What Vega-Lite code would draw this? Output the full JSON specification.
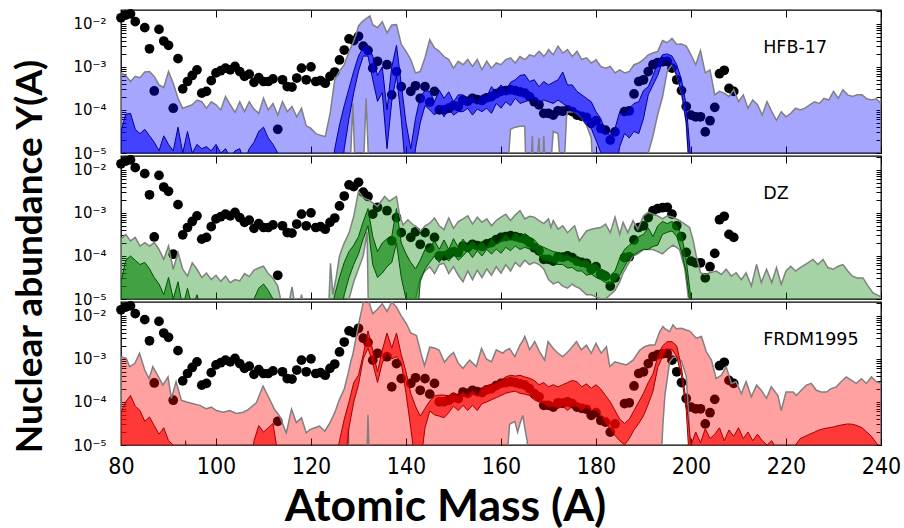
{
"$schema":"https://vega.github.io/schema/vega-lite/v6.json",
"background":"white",
"padding":{"left":11,"top":3,"right":5,"bottom":5},
"spacing":3,
"bounds":"flush",
"config":{"view":{"stroke":"black","strokeWidth":1.3},"axis":{"domain":false,"grid":false,"tickColor":"black","tickWidth":1}},
"datasets":{
"solar":[{"A":80,"logY":-1.86},{"A":81,"logY":-1.8},{"A":82,"logY":-1.77},{"A":83,"logY":-1.95},{"A":85,"logY":-2.09},{"A":86,"logY":-2.58},{"A":87,"logY":-3.56},{"A":88,"logY":-2.13},{"A":89,"logY":-2.4},{"A":90,"logY":-2.5},{"A":91,"logY":-3.96},{"A":92,"logY":-2.81},{"A":93,"logY":-3.51},{"A":94,"logY":-3.34},{"A":95,"logY":-3.2},{"A":96,"logY":-3.07},{"A":97,"logY":-3.61},{"A":98,"logY":-3.57},{"A":99,"logY":-3.32},{"A":100,"logY":-3.14},{"A":101,"logY":-3.09},{"A":102,"logY":-3.03},{"A":103,"logY":-3.07},{"A":104,"logY":-2.99},{"A":105,"logY":-3.11},{"A":106,"logY":-3.22},{"A":107,"logY":-3.17},{"A":108,"logY":-3.36},{"A":109,"logY":-3.25},{"A":110,"logY":-3.34},{"A":111,"logY":-3.34},{"A":112,"logY":-3.28},{"A":113,"logY":-4.45},{"A":114,"logY":-3.3},{"A":115,"logY":-3.46},{"A":116,"logY":-3.47},{"A":117,"logY":-3.26},{"A":118,"logY":-3.03},{"A":119,"logY":-3.3},{"A":120,"logY":-3.0},{"A":121,"logY":-3.34},{"A":122,"logY":-3.32},{"A":123,"logY":-3.38},{"A":124,"logY":-3.22},{"A":125,"logY":-3.12},{"A":126,"logY":-2.84},{"A":127,"logY":-2.61},{"A":128,"logY":-2.35},{"A":129,"logY":-2.39},{"A":130,"logY":-2.29},{"A":131,"logY":-2.52},{"A":132,"logY":-2.62},{"A":133,"logY":-3.03},{"A":134,"logY":-2.87},{"A":136,"logY":-2.95},{"A":137,"logY":-3.65},{"A":138,"logY":-3.11},{"A":139,"logY":-3.46},{"A":141,"logY":-3.57},{"A":142,"logY":-3.44},{"A":143,"logY":-3.73},{"A":144,"logY":-3.46},{"A":145,"logY":-3.82},{"A":146,"logY":-3.57},{"A":147,"logY":-4.0},{"A":148,"logY":-4.0},{"A":149,"logY":-3.96},{"A":150,"logY":-3.9},{"A":151,"logY":-3.92},{"A":152,"logY":-3.77},{"A":153,"logY":-3.8},{"A":154,"logY":-3.73},{"A":155,"logY":-3.76},{"A":156,"logY":-3.78},{"A":157,"logY":-3.72},{"A":158,"logY":-3.69},{"A":159,"logY":-3.62},{"A":160,"logY":-3.57},{"A":161,"logY":-3.55},{"A":162,"logY":-3.53},{"A":163,"logY":-3.55},{"A":164,"logY":-3.58},{"A":165,"logY":-3.61},{"A":166,"logY":-3.69},{"A":167,"logY":-3.81},{"A":168,"logY":-3.88},{"A":169,"logY":-4.08},{"A":170,"logY":-4.08},{"A":171,"logY":-4.12},{"A":172,"logY":-4.02},{"A":173,"logY":-4.03},{"A":174,"logY":-4.0},{"A":175,"logY":-4.04},{"A":176,"logY":-4.12},{"A":177,"logY":-4.15},{"A":178,"logY":-4.17},{"A":179,"logY":-4.31},{"A":180,"logY":-4.25},{"A":181,"logY":-4.43},{"A":182,"logY":-4.47},{"A":183,"logY":-4.7},{"A":184,"logY":-4.51},{"A":186,"logY":-4.04},{"A":187,"logY":-4.02},{"A":188,"logY":-3.63},{"A":189,"logY":-3.34},{"A":190,"logY":-3.3},{"A":191,"logY":-3.11},{"A":192,"logY":-2.95},{"A":193,"logY":-2.9},{"A":194,"logY":-2.88},{"A":195,"logY":-2.87},{"A":196,"logY":-3.03},{"A":197,"logY":-3.3},{"A":198,"logY":-3.55},{"A":199,"logY":-3.92},{"A":200,"logY":-4.12},{"A":201,"logY":-4.16},{"A":202,"logY":-4.16},{"A":203,"logY":-4.51},{"A":204,"logY":-4.25},{"A":205,"logY":-3.94},{"A":206,"logY":-3.16},{"A":207,"logY":-3.08},{"A":208,"logY":-3.5},{"A":209,"logY":-3.57}],
"hfbLight":[{"A":80,"lo":-6,"hi":-3.14},{"A":81,"lo":-6,"hi":-3.2},{"A":82,"lo":-6,"hi":-3.34},{"A":83,"lo":-6,"hi":-3.22},{"A":84,"lo":-6,"hi":-3.25},{"A":85,"lo":-6,"hi":-3.12},{"A":86,"lo":-6,"hi":-3.11},{"A":87,"lo":-6,"hi":-3.22},{"A":88,"lo":-6,"hi":-3.42},{"A":89,"lo":-6,"hi":-3.48},{"A":90,"lo":-6,"hi":-3.11},{"A":91,"lo":-6,"hi":-3.38},{"A":92,"lo":-6,"hi":-3.73},{"A":93,"lo":-6,"hi":-3.96},{"A":94,"lo":-6,"hi":-3.92},{"A":95,"lo":-6,"hi":-3.88},{"A":96,"lo":-6,"hi":-3.77},{"A":97,"lo":-6,"hi":-3.81},{"A":98,"lo":-6,"hi":-3.96},{"A":99,"lo":-6,"hi":-3.81},{"A":100,"lo":-6,"hi":-3.88},{"A":101,"lo":-6,"hi":-4.0},{"A":102,"lo":-6,"hi":-3.69},{"A":103,"lo":-6,"hi":-3.88},{"A":104,"lo":-6,"hi":-4.06},{"A":105,"lo":-6,"hi":-3.81},{"A":106,"lo":-6,"hi":-4.04},{"A":107,"lo":-6,"hi":-3.81},{"A":108,"lo":-6,"hi":-3.98},{"A":109,"lo":-6,"hi":-4.08},{"A":110,"lo":-6,"hi":-3.73},{"A":111,"lo":-6,"hi":-4.0},{"A":112,"lo":-6,"hi":-3.85},{"A":113,"lo":-6,"hi":-4.12},{"A":114,"lo":-6,"hi":-3.81},{"A":115,"lo":-6,"hi":-4.04},{"A":116,"lo":-6,"hi":-3.92},{"A":117,"lo":-6,"hi":-4.16},{"A":118,"lo":-6,"hi":-3.96},{"A":119,"lo":-6,"hi":-4.37},{"A":120,"lo":-6,"hi":-4.43},{"A":121,"lo":-6,"hi":-4.55},{"A":122,"lo":-6,"hi":-4.59},{"A":123,"lo":-6,"hi":-4.62},{"A":124,"lo":-6,"hi":-4.1},{"A":125,"lo":-6,"hi":-3.3},{"A":126,"lo":-6,"hi":-3.1},{"A":127,"lo":-6,"hi":-2.95},{"A":128,"lo":-6,"hi":-2.65},{"A":128.8,"lo":-3.85,"hi":-2.45},{"A":129.5,"lo":-6,"hi":-2.25},{"A":130,"lo":-6,"hi":-2.05},{"A":130.8,"lo":-6,"hi":-1.95},{"A":131.6,"lo":-3.73,"hi":-1.88},{"A":132.4,"lo":-6,"hi":-1.82},{"A":133,"lo":-6,"hi":-2.02},{"A":134,"lo":-6,"hi":-2.09},{"A":135,"lo":-6,"hi":-1.95},{"A":136,"lo":-6,"hi":-2.21},{"A":137,"lo":-6,"hi":-2.03},{"A":138,"lo":-6,"hi":-2.02},{"A":139,"lo":-6,"hi":-2.48},{"A":140,"lo":-6,"hi":-2.64},{"A":141,"lo":-6,"hi":-2.83},{"A":142,"lo":-6,"hi":-3.14},{"A":143,"lo":-6,"hi":-3.11},{"A":144,"lo":-6,"hi":-2.79},{"A":145,"lo":-6,"hi":-2.37},{"A":146,"lo":-6,"hi":-2.56},{"A":147,"lo":-6,"hi":-2.64},{"A":148,"lo":-6,"hi":-2.76},{"A":149,"lo":-6,"hi":-2.83},{"A":150,"lo":-6,"hi":-3.03},{"A":151,"lo":-6,"hi":-2.87},{"A":152,"lo":-6,"hi":-2.95},{"A":153,"lo":-6,"hi":-2.83},{"A":154,"lo":-6,"hi":-2.99},{"A":155,"lo":-6,"hi":-2.83},{"A":156,"lo":-6,"hi":-3.07},{"A":157,"lo":-6,"hi":-2.87},{"A":158,"lo":-6,"hi":-3.03},{"A":159,"lo":-6,"hi":-2.91},{"A":160,"lo":-6,"hi":-2.95},{"A":161,"lo":-6,"hi":-2.83},{"A":162,"lo":-4.45,"hi":-2.79},{"A":163,"lo":-4.4,"hi":-2.91},{"A":164,"lo":-4.38,"hi":-2.76},{"A":165,"lo":-4.38,"hi":-2.83},{"A":165.4,"lo":-6,"hi":-2.8},{"A":166,"lo":-6,"hi":-2.72},{"A":166.6,"lo":-4.6,"hi":-2.74},{"A":167,"lo":-6,"hi":-2.76},{"A":168,"lo":-4.65,"hi":-2.64},{"A":168.6,"lo":-6,"hi":-2.7},{"A":169,"lo":-4.6,"hi":-2.76},{"A":169.6,"lo":-6,"hi":-2.68},{"A":170,"lo":-6,"hi":-2.6},{"A":171,"lo":-4.5,"hi":-2.72},{"A":172,"lo":-4.55,"hi":-2.52},{"A":173,"lo":-6,"hi":-2.68},{"A":173.8,"lo":-4.15,"hi":-2.62},{"A":174,"lo":-4.05,"hi":-2.6},{"A":175,"lo":-4.05,"hi":-2.76},{"A":176,"lo":-4.08,"hi":-2.64},{"A":177,"lo":-4.2,"hi":-2.83},{"A":178,"lo":-4.35,"hi":-2.79},{"A":179,"lo":-4.65,"hi":-2.91},{"A":179.6,"lo":-6,"hi":-2.87},{"A":180,"lo":-6,"hi":-2.83},{"A":181,"lo":-6,"hi":-2.99},{"A":182,"lo":-6,"hi":-3.03},{"A":183,"lo":-6,"hi":-2.99},{"A":184,"lo":-6,"hi":-3.14},{"A":185,"lo":-6,"hi":-3.07},{"A":186,"lo":-6,"hi":-3.14},{"A":187,"lo":-6,"hi":-3.11},{"A":188,"lo":-6,"hi":-2.95},{"A":189,"lo":-6,"hi":-2.91},{"A":190,"lo":-6,"hi":-2.83},{"A":191,"lo":-5.0,"hi":-2.72},{"A":192,"lo":-4.6,"hi":-2.68},{"A":193,"lo":-4.1,"hi":-2.64},{"A":194,"lo":-3.7,"hi":-2.39},{"A":195,"lo":-3.1,"hi":-2.44},{"A":196,"lo":-2.95,"hi":-2.34},{"A":197,"lo":-3.2,"hi":-2.48},{"A":198,"lo":-3.6,"hi":-2.47},{"A":199,"lo":-4.3,"hi":-2.52},{"A":200,"lo":-6,"hi":-2.72},{"A":201,"lo":-6,"hi":-2.95},{"A":202,"lo":-6,"hi":-2.62},{"A":203,"lo":-6,"hi":-3.14},{"A":204,"lo":-6,"hi":-3.07},{"A":205,"lo":-6,"hi":-3.65},{"A":206,"lo":-6,"hi":-3.57},{"A":207,"lo":-6,"hi":-3.61},{"A":208,"lo":-6,"hi":-3.69},{"A":209,"lo":-6,"hi":-3.53},{"A":210,"lo":-6,"hi":-3.81},{"A":211,"lo":-6,"hi":-3.65},{"A":212,"lo":-6,"hi":-3.96},{"A":213,"lo":-6,"hi":-3.77},{"A":214,"lo":-6,"hi":-3.88},{"A":215,"lo":-6,"hi":-4.12},{"A":216,"lo":-6,"hi":-3.81},{"A":217,"lo":-6,"hi":-4.04},{"A":218,"lo":-6,"hi":-4.24},{"A":219,"lo":-6,"hi":-4.04},{"A":220,"lo":-6,"hi":-4.16},{"A":221,"lo":-6,"hi":-4.08},{"A":222,"lo":-6,"hi":-3.96},{"A":223,"lo":-6,"hi":-4.0},{"A":224,"lo":-6,"hi":-3.96},{"A":225,"lo":-6,"hi":-3.88},{"A":226,"lo":-6,"hi":-3.81},{"A":227,"lo":-6,"hi":-3.85},{"A":228,"lo":-6,"hi":-3.73},{"A":229,"lo":-6,"hi":-3.77},{"A":230,"lo":-6,"hi":-3.57},{"A":231,"lo":-6,"hi":-3.73},{"A":232,"lo":-6,"hi":-3.53},{"A":233,"lo":-6,"hi":-3.65},{"A":234,"lo":-6,"hi":-3.69},{"A":235,"lo":-6,"hi":-3.65},{"A":236,"lo":-6,"hi":-3.65},{"A":237,"lo":-6,"hi":-3.74},{"A":238,"lo":-6,"hi":-3.77},{"A":239,"lo":-6,"hi":-3.74},{"A":240,"lo":-6,"hi":-3.85}],
"hfbDark":[{"A":80,"lo":-6,"hi":-4.5},{"A":81,"lo":-6,"hi":-4.1},{"A":82,"lo":-6,"hi":-4.08},{"A":83,"lo":-6,"hi":-4.45},{"A":84,"lo":-6,"hi":-4.55},{"A":85,"lo":-6,"hi":-4.45},{"A":86,"lo":-6,"hi":-4.6},{"A":87,"lo":-6,"hi":-4.75},{"A":88,"lo":-6,"hi":-4.95},{"A":89,"lo":-6,"hi":-4.6},{"A":90,"lo":-6,"hi":-4.8},{"A":91,"lo":-6,"hi":-4.95},{"A":92,"lo":-6,"hi":-4.4},{"A":93,"lo":-6,"hi":-5.0},{"A":94,"lo":-6,"hi":-4.5},{"A":95,"lo":-6,"hi":-5.0},{"A":96,"lo":-6,"hi":-4.8},{"A":97,"lo":-6,"hi":-4.9},{"A":98,"lo":-6,"hi":-4.85},{"A":99,"lo":-6,"hi":-4.95},{"A":100,"lo":-6,"hi":-4.8},{"A":101,"lo":-6,"hi":-5.0},{"A":102,"lo":-6,"hi":-4.9},{"A":103,"lo":-6,"hi":-5.1},{"A":104,"lo":-6,"hi":-4.95},{"A":105,"lo":-6,"hi":-4.9},{"A":106,"lo":-6,"hi":-5.2},{"A":107,"lo":-6,"hi":-4.9},{"A":108,"lo":-6,"hi":-4.75},{"A":109,"lo":-6,"hi":-4.5},{"A":110,"lo":-6,"hi":-4.4},{"A":111,"lo":-6,"hi":-4.65},{"A":112,"lo":-6,"hi":-4.8},{"A":113,"lo":-6,"hi":-5.0},{"A":114,"lo":-6,"hi":-5.5},{"A":115,"lo":-6,"hi":-6},{"A":124,"lo":-6,"hi":-6},{"A":125,"lo":-6,"hi":-4.9},{"A":126,"lo":-6,"hi":-4.35},{"A":127,"lo":-4.9,"hi":-3.9},{"A":128,"lo":-4.2,"hi":-3.5},{"A":129,"lo":-3.6,"hi":-3.1},{"A":130,"lo":-3.1,"hi":-2.75},{"A":131,"lo":-2.75,"hi":-2.55},{"A":132,"lo":-2.75,"hi":-2.5},{"A":133,"lo":-3.3,"hi":-2.75},{"A":134,"lo":-3.8,"hi":-3.2},{"A":135,"lo":-3.6,"hi":-3.0},{"A":136,"lo":-4.9,"hi":-4.0},{"A":137,"lo":-3.8,"hi":-3.0},{"A":138,"lo":-3.2,"hi":-2.5},{"A":139,"lo":-4.2,"hi":-3.4},{"A":140,"lo":-5.5,"hi":-4.3},{"A":141,"lo":-6,"hi":-4.9},{"A":142,"lo":-4.9,"hi":-4.2},{"A":143,"lo":-4.3,"hi":-3.7},{"A":144,"lo":-3.9,"hi":-3.55},{"A":145,"lo":-4.0,"hi":-3.57},{"A":146,"lo":-4.12,"hi":-3.81},{"A":147,"lo":-3.96,"hi":-3.54},{"A":148,"lo":-4.16,"hi":-3.73},{"A":149,"lo":-3.96,"hi":-3.58},{"A":150,"lo":-4.12,"hi":-3.81},{"A":151,"lo":-4.04,"hi":-3.65},{"A":152,"lo":-4.04,"hi":-3.65},{"A":153,"lo":-3.96,"hi":-3.75},{"A":154,"lo":-4.12,"hi":-3.69},{"A":155,"lo":-3.98,"hi":-3.85},{"A":156,"lo":-4.04,"hi":-3.65},{"A":157,"lo":-3.96,"hi":-3.69},{"A":158,"lo":-4.08,"hi":-3.46},{"A":159,"lo":-3.85,"hi":-3.6},{"A":160,"lo":-3.96,"hi":-3.42},{"A":161,"lo":-3.81,"hi":-3.55},{"A":162,"lo":-3.9,"hi":-3.36},{"A":163,"lo":-3.73,"hi":-3.3},{"A":164,"lo":-3.85,"hi":-3.2},{"A":165,"lo":-3.81,"hi":-3.18},{"A":166,"lo":-3.77,"hi":-3.34},{"A":167,"lo":-3.73,"hi":-3.3},{"A":168,"lo":-3.85,"hi":-3.46},{"A":169,"lo":-3.77,"hi":-3.34},{"A":170,"lo":-3.81,"hi":-3.42},{"A":171,"lo":-3.85,"hi":-3.36},{"A":172,"lo":-3.77,"hi":-3.3},{"A":173,"lo":-3.85,"hi":-3.12},{"A":174,"lo":-3.92,"hi":-3.42},{"A":175,"lo":-4.04,"hi":-3.42},{"A":176,"lo":-4.12,"hi":-3.57},{"A":177,"lo":-4.2,"hi":-3.65},{"A":178,"lo":-4.35,"hi":-3.73},{"A":179,"lo":-4.43,"hi":-3.81},{"A":180,"lo":-4.7,"hi":-4.04},{"A":181,"lo":-4.99,"hi":-4.2},{"A":182,"lo":-6,"hi":-4.5},{"A":183,"lo":-6,"hi":-4.59},{"A":184,"lo":-5.5,"hi":-4.43},{"A":185,"lo":-4.85,"hi":-4.04},{"A":186,"lo":-4.55,"hi":-4.12},{"A":187,"lo":-4.65,"hi":-3.96},{"A":188,"lo":-4.5,"hi":-3.85},{"A":189,"lo":-4.55,"hi":-3.81},{"A":190,"lo":-4.2,"hi":-3.55},{"A":191,"lo":-3.65,"hi":-3.46},{"A":192,"lo":-3.42,"hi":-3.2},{"A":193,"lo":-3.2,"hi":-2.91},{"A":194,"lo":-2.87,"hi":-2.72},{"A":195,"lo":-2.83,"hi":-2.7},{"A":196,"lo":-2.95,"hi":-2.75},{"A":197,"lo":-3.2,"hi":-2.95},{"A":198,"lo":-3.6,"hi":-3.3},{"A":199,"lo":-4.3,"hi":-3.9},{"A":200,"lo":-6,"hi":-5.2}],
"dzLight":[{"A":80,"lo":-6,"hi":-3.61},{"A":81,"lo":-6,"hi":-3.5},{"A":82,"lo":-6,"hi":-3.65},{"A":83,"lo":-6,"hi":-3.57},{"A":84,"lo":-6,"hi":-3.77},{"A":85,"lo":-6,"hi":-3.69},{"A":86,"lo":-6,"hi":-3.77},{"A":87,"lo":-6,"hi":-3.69},{"A":88,"lo":-6,"hi":-3.85},{"A":89,"lo":-6,"hi":-4.08},{"A":90,"lo":-6,"hi":-3.77},{"A":91,"lo":-6,"hi":-4.31},{"A":92,"lo":-6,"hi":-3.92},{"A":93,"lo":-6,"hi":-4.31},{"A":94,"lo":-6,"hi":-4.47},{"A":95,"lo":-6,"hi":-4.16},{"A":96,"lo":-6,"hi":-4.31},{"A":97,"lo":-6,"hi":-4.5},{"A":98,"lo":-6,"hi":-4.4},{"A":99,"lo":-6,"hi":-4.55},{"A":100,"lo":-6,"hi":-4.45},{"A":101,"lo":-6,"hi":-4.59},{"A":102,"lo":-6,"hi":-4.47},{"A":103,"lo":-6,"hi":-4.62},{"A":104,"lo":-6,"hi":-4.55},{"A":105,"lo":-6,"hi":-4.58},{"A":106,"lo":-6,"hi":-4.41},{"A":107,"lo":-6,"hi":-4.48},{"A":108,"lo":-6,"hi":-4.33},{"A":109,"lo":-6,"hi":-4.28},{"A":110,"lo":-6,"hi":-4.24},{"A":111,"lo":-6,"hi":-4.41},{"A":112,"lo":-6,"hi":-4.52},{"A":113,"lo":-6,"hi":-4.7},{"A":114,"lo":-6,"hi":-5.2},{"A":115,"lo":-6,"hi":-5.3},{"A":116,"lo":-6,"hi":-4.72},{"A":117,"lo":-6,"hi":-5.4},{"A":118,"lo":-6,"hi":-4.9},{"A":119,"lo":-6,"hi":-5.5},{"A":120,"lo":-6,"hi":-6},{"A":123,"lo":-6,"hi":-6},{"A":123.8,"lo":-6,"hi":-5.0},{"A":124.1,"lo":-6,"hi":-4.17},{"A":124.6,"lo":-6,"hi":-4.9},{"A":125.3,"lo":-6,"hi":-4.5},{"A":126,"lo":-6,"hi":-4.0},{"A":126.7,"lo":-6,"hi":-3.78},{"A":127,"lo":-6,"hi":-3.7},{"A":128,"lo":-5.0,"hi":-3.47},{"A":129,"lo":-4.6,"hi":-3.08},{"A":130,"lo":-4.3,"hi":-2.5},{"A":131,"lo":-4.0,"hi":-2.65},{"A":131.8,"lo":-3.45,"hi":-2.69},{"A":132.2,"lo":-6,"hi":-2.7},{"A":133,"lo":-6,"hi":-2.77},{"A":134,"lo":-6,"hi":-2.85},{"A":134.5,"lo":-6,"hi":-2.77},{"A":135.5,"lo":-6,"hi":-2.62},{"A":136.5,"lo":-6,"hi":-2.73},{"A":138,"lo":-6,"hi":-2.62},{"A":138.7,"lo":-6,"hi":-3.08},{"A":139.4,"lo":-6,"hi":-3.28},{"A":140.4,"lo":-6,"hi":-3.16},{"A":141.5,"lo":-6,"hi":-3.28},{"A":142,"lo":-5.0,"hi":-3.3},{"A":143,"lo":-4.5,"hi":-3.43},{"A":144,"lo":-4.35,"hi":-3.3},{"A":145,"lo":-4.25,"hi":-3.24},{"A":146,"lo":-4.41,"hi":-3.12},{"A":147,"lo":-4.2,"hi":-3.3},{"A":148,"lo":-4.17,"hi":-3.39},{"A":149,"lo":-4.41,"hi":-3.12},{"A":150,"lo":-4.25,"hi":-3.36},{"A":151,"lo":-4.45,"hi":-3.2},{"A":152,"lo":-4.6,"hi":-3.14},{"A":153,"lo":-4.35,"hi":-3.07},{"A":154,"lo":-4.55,"hi":-3.26},{"A":155,"lo":-4.33,"hi":-3.1},{"A":156,"lo":-4.5,"hi":-3.22},{"A":157,"lo":-4.3,"hi":-3.14},{"A":158,"lo":-4.45,"hi":-3.3},{"A":159,"lo":-4.25,"hi":-3.18},{"A":160,"lo":-4.4,"hi":-3.1},{"A":161,"lo":-4.2,"hi":-3.03},{"A":162,"lo":-4.35,"hi":-3.18},{"A":163,"lo":-4.15,"hi":-3.05},{"A":164,"lo":-4.25,"hi":-2.95},{"A":165,"lo":-4.1,"hi":-3.14},{"A":166,"lo":-4.2,"hi":-3.08},{"A":167,"lo":-4.15,"hi":-3.1},{"A":168,"lo":-4.2,"hi":-3.18},{"A":169,"lo":-4.3,"hi":-3.25},{"A":170,"lo":-4.55,"hi":-3.14},{"A":170.5,"lo":-4.6,"hi":-3.34},{"A":171,"lo":-4.65,"hi":-3.18},{"A":172,"lo":-4.6,"hi":-3.38},{"A":173,"lo":-4.7,"hi":-3.3},{"A":174,"lo":-4.75,"hi":-3.46},{"A":175,"lo":-4.65,"hi":-3.35},{"A":175.5,"lo":-4.7,"hi":-3.3},{"A":176.5,"lo":-4.75,"hi":-3.65},{"A":178,"lo":-4.9,"hi":-3.42},{"A":179,"lo":-4.9,"hi":-3.38},{"A":180,"lo":-4.95,"hi":-3.36},{"A":181,"lo":-5.0,"hi":-3.34},{"A":182,"lo":-5.0,"hi":-3.26},{"A":183,"lo":-4.9,"hi":-3.46},{"A":184,"lo":-4.8,"hi":-3.1},{"A":185,"lo":-4.6,"hi":-3.5},{"A":185.7,"lo":-4.4,"hi":-3.22},{"A":186.7,"lo":-4.2,"hi":-3.46},{"A":187.8,"lo":-4.0,"hi":-3.18},{"A":188.8,"lo":-3.95,"hi":-3.38},{"A":190,"lo":-3.85,"hi":-3.07},{"A":191,"lo":-3.85,"hi":-2.99},{"A":192,"lo":-3.85,"hi":-3.03},{"A":193,"lo":-3.9,"hi":-3.07},{"A":194,"lo":-3.95,"hi":-3.14},{"A":195,"lo":-3.85,"hi":-3.07},{"A":196.2,"lo":-3.75,"hi":-3.1},{"A":197.6,"lo":-3.85,"hi":-3.18},{"A":198.7,"lo":-4.3,"hi":-3.26},{"A":199.7,"lo":-5.2,"hi":-3.34},{"A":200.4,"lo":-6,"hi":-3.61},{"A":201.1,"lo":-6,"hi":-4.0},{"A":202,"lo":-6,"hi":-4.39},{"A":203,"lo":-6,"hi":-4.43},{"A":204,"lo":-6,"hi":-4.39},{"A":205.3,"lo":-6,"hi":-4.35},{"A":206.4,"lo":-6,"hi":-4.43},{"A":207.4,"lo":-6,"hi":-4.31},{"A":208.5,"lo":-6,"hi":-4.47},{"A":209.5,"lo":-6,"hi":-4.39},{"A":210.6,"lo":-6,"hi":-4.55},{"A":211.6,"lo":-6,"hi":-4.39},{"A":212.7,"lo":-6,"hi":-4.7},{"A":213.8,"lo":-6,"hi":-4.2},{"A":214.8,"lo":-6,"hi":-4.62},{"A":215.9,"lo":-6,"hi":-4.31},{"A":217,"lo":-6,"hi":-4.62},{"A":218,"lo":-6,"hi":-4.27},{"A":219,"lo":-6,"hi":-4.66},{"A":220,"lo":-6,"hi":-4.35},{"A":221,"lo":-6,"hi":-4.24},{"A":222,"lo":-6,"hi":-4.35},{"A":223,"lo":-6,"hi":-4.27},{"A":224.6,"lo":-6,"hi":-4.16},{"A":225.7,"lo":-6,"hi":-4.08},{"A":226.7,"lo":-6,"hi":-4.2},{"A":227.8,"lo":-6,"hi":-4.08},{"A":228.8,"lo":-6,"hi":-4.27},{"A":229.9,"lo":-6,"hi":-4.31},{"A":231,"lo":-6,"hi":-4.24},{"A":232,"lo":-6,"hi":-4.2},{"A":233,"lo":-6,"hi":-4.35},{"A":234,"lo":-6,"hi":-4.47},{"A":235,"lo":-6,"hi":-4.51},{"A":236.2,"lo":-6,"hi":-4.51},{"A":237.3,"lo":-6,"hi":-4.7},{"A":238.3,"lo":-6,"hi":-4.86},{"A":240,"lo":-6,"hi":-4.95}],
"dzDark":[{"A":80,"lo":-6,"hi":-4.6},{"A":81,"lo":-6,"hi":-4.1},{"A":82,"lo":-6,"hi":-4.0},{"A":83,"lo":-6,"hi":-4.1},{"A":84,"lo":-6,"hi":-4.2},{"A":85,"lo":-6,"hi":-4.15},{"A":86,"lo":-6,"hi":-4.3},{"A":87,"lo":-6,"hi":-4.5},{"A":88,"lo":-6,"hi":-4.65},{"A":89,"lo":-6,"hi":-4.9},{"A":90,"lo":-6,"hi":-4.5},{"A":91,"lo":-6,"hi":-5.0},{"A":92,"lo":-6,"hi":-4.6},{"A":93,"lo":-6,"hi":-5.2},{"A":94,"lo":-6,"hi":-4.75},{"A":95,"lo":-6,"hi":-5.2},{"A":96,"lo":-6,"hi":-4.9},{"A":97,"lo":-6,"hi":-5.3},{"A":98,"lo":-6,"hi":-6},{"A":107,"lo":-6,"hi":-6},{"A":108,"lo":-6,"hi":-5.0},{"A":109,"lo":-6,"hi":-4.75},{"A":110,"lo":-6,"hi":-4.65},{"A":111,"lo":-6,"hi":-4.8},{"A":112,"lo":-6,"hi":-5.0},{"A":113,"lo":-6,"hi":-6},{"A":124,"lo":-6,"hi":-5.5},{"A":125,"lo":-6,"hi":-4.9},{"A":126,"lo":-5.5,"hi":-4.5},{"A":127,"lo":-4.9,"hi":-4.15},{"A":128,"lo":-4.5,"hi":-3.9},{"A":129,"lo":-4.2,"hi":-3.75},{"A":130,"lo":-3.95,"hi":-3.55},{"A":131,"lo":-3.6,"hi":-3.2},{"A":132,"lo":-3.3,"hi":-2.9},{"A":133,"lo":-4.2,"hi":-3.55},{"A":134,"lo":-4.5,"hi":-3.9},{"A":135,"lo":-4.4,"hi":-3.7},{"A":136,"lo":-4.25,"hi":-3.6},{"A":137,"lo":-4.15,"hi":-3.55},{"A":138,"lo":-3.7,"hi":-2.9},{"A":139,"lo":-4.5,"hi":-3.7},{"A":140,"lo":-5.0,"hi":-3.95},{"A":141,"lo":-5.5,"hi":-4.15},{"A":142,"lo":-6,"hi":-4.3},{"A":143,"lo":-4.6,"hi":-4.1},{"A":144,"lo":-4.3,"hi":-3.85},{"A":145,"lo":-4.15,"hi":-3.8},{"A":146,"lo":-4.0,"hi":-3.65},{"A":147,"lo":-4.15,"hi":-3.85},{"A":148,"lo":-3.98,"hi":-3.63},{"A":149,"lo":-4.12,"hi":-3.85},{"A":150,"lo":-3.96,"hi":-3.6},{"A":151,"lo":-4.1,"hi":-3.8},{"A":152,"lo":-4.0,"hi":-3.61},{"A":153,"lo":-3.88,"hi":-3.77},{"A":154,"lo":-4.04,"hi":-3.65},{"A":155,"lo":-3.88,"hi":-3.78},{"A":156,"lo":-4.0,"hi":-3.66},{"A":157,"lo":-3.85,"hi":-3.8},{"A":158,"lo":-3.96,"hi":-3.6},{"A":159,"lo":-3.84,"hi":-3.72},{"A":160,"lo":-3.94,"hi":-3.62},{"A":161,"lo":-3.8,"hi":-3.5},{"A":162,"lo":-3.88,"hi":-3.62},{"A":163,"lo":-3.77,"hi":-3.45},{"A":164,"lo":-3.85,"hi":-3.56},{"A":165,"lo":-3.8,"hi":-3.48},{"A":166,"lo":-3.84,"hi":-3.56},{"A":167,"lo":-3.85,"hi":-3.62},{"A":168,"lo":-4.0,"hi":-3.75},{"A":169,"lo":-4.1,"hi":-3.8},{"A":170,"lo":-4.12,"hi":-3.85},{"A":171,"lo":-4.15,"hi":-3.9},{"A":172,"lo":-4.2,"hi":-3.92},{"A":173,"lo":-4.2,"hi":-3.98},{"A":174,"lo":-4.28,"hi":-3.98},{"A":175,"lo":-4.27,"hi":-4.05},{"A":176,"lo":-4.35,"hi":-4.04},{"A":177,"lo":-4.35,"hi":-4.12},{"A":178,"lo":-4.45,"hi":-4.1},{"A":179,"lo":-4.42,"hi":-4.2},{"A":180,"lo":-4.5,"hi":-4.18},{"A":181,"lo":-4.55,"hi":-4.3},{"A":182,"lo":-4.62,"hi":-4.35},{"A":183,"lo":-4.66,"hi":-4.45},{"A":184,"lo":-4.58,"hi":-4.35},{"A":185,"lo":-4.45,"hi":-4.05},{"A":186,"lo":-4.25,"hi":-3.85},{"A":187,"lo":-4.05,"hi":-3.75},{"A":188,"lo":-3.98,"hi":-3.68},{"A":189,"lo":-3.9,"hi":-3.55},{"A":190,"lo":-3.85,"hi":-3.5},{"A":191,"lo":-3.85,"hi":-3.35},{"A":192,"lo":-3.78,"hi":-3.55},{"A":193,"lo":-3.75,"hi":-3.3},{"A":194,"lo":-3.5,"hi":-3.2},{"A":195,"lo":-3.45,"hi":-3.25},{"A":196,"lo":-3.42,"hi":-3.2},{"A":197,"lo":-3.55,"hi":-3.3},{"A":198,"lo":-3.9,"hi":-3.5},{"A":199,"lo":-4.4,"hi":-4.1},{"A":200,"lo":-5.3,"hi":-5.0}],
"frdmLight":[{"A":80,"lo":-6,"hi":-2.95},{"A":81.1,"lo":-6,"hi":-2.99},{"A":81.8,"lo":-6,"hi":-3.18},{"A":82.9,"lo":-6,"hi":-3.11},{"A":83.9,"lo":-6,"hi":-2.87},{"A":85,"lo":-6,"hi":-3.26},{"A":85.9,"lo":-6,"hi":-3.46},{"A":86.7,"lo":-6,"hi":-3.18},{"A":88.1,"lo":-6,"hi":-3.46},{"A":88.8,"lo":-6,"hi":-3.61},{"A":89.9,"lo":-6,"hi":-3.42},{"A":90.6,"lo":-6,"hi":-3.92},{"A":91.6,"lo":-6,"hi":-3.53},{"A":92.7,"lo":-6,"hi":-3.96},{"A":93.8,"lo":-6,"hi":-4.0},{"A":95.2,"lo":-6,"hi":-4.04},{"A":96.6,"lo":-6,"hi":-4.08},{"A":98,"lo":-6,"hi":-4.16},{"A":99,"lo":-6,"hi":-4.12},{"A":100.1,"lo":-6,"hi":-4.2},{"A":101.5,"lo":-6,"hi":-4.24},{"A":102.9,"lo":-6,"hi":-4.2},{"A":104.3,"lo":-6,"hi":-4.27},{"A":105.7,"lo":-6,"hi":-4.24},{"A":106.5,"lo":-6,"hi":-4.2},{"A":108.5,"lo":-6,"hi":-4.02},{"A":109.9,"lo":-6,"hi":-3.63},{"A":111.3,"lo":-6,"hi":-3.94},{"A":112.3,"lo":-6,"hi":-4.17},{"A":113.4,"lo":-6,"hi":-4.33},{"A":114.8,"lo":-6,"hi":-4.72},{"A":115.9,"lo":-6,"hi":-4.17},{"A":116.9,"lo":-6,"hi":-4.48},{"A":118,"lo":-6,"hi":-4.37},{"A":119,"lo":-6,"hi":-4.72},{"A":119.7,"lo":-6,"hi":-4.65},{"A":120.8,"lo":-6,"hi":-4.6},{"A":121.8,"lo":-6,"hi":-4.56},{"A":122.9,"lo":-6,"hi":-4.68},{"A":124,"lo":-6,"hi":-4.48},{"A":125,"lo":-6,"hi":-4.25},{"A":126,"lo":-6,"hi":-3.94},{"A":127,"lo":-6,"hi":-3.7},{"A":127.8,"lo":-4.6,"hi":-3.35},{"A":128.4,"lo":-6,"hi":-3.05},{"A":128.8,"lo":-6,"hi":-2.9},{"A":129.5,"lo":-6,"hi":-2.5},{"A":130.2,"lo":-6,"hi":-2.1},{"A":131,"lo":-6,"hi":-1.7},{"A":131.6,"lo":-6,"hi":-1.63},{"A":132,"lo":-4.3,"hi":-1.62},{"A":132.4,"lo":-6,"hi":-1.75},{"A":133,"lo":-6,"hi":-1.95},{"A":134,"lo":-6,"hi":-1.85},{"A":135,"lo":-6,"hi":-1.72},{"A":136,"lo":-6,"hi":-1.9},{"A":137,"lo":-6,"hi":-1.68},{"A":138,"lo":-6,"hi":-1.8},{"A":139,"lo":-6,"hi":-2.0},{"A":140.1,"lo":-6,"hi":-2.19},{"A":141,"lo":-6,"hi":-2.4},{"A":142.2,"lo":-6,"hi":-2.46},{"A":143.2,"lo":-6,"hi":-2.89},{"A":143.9,"lo":-6,"hi":-3.16},{"A":145,"lo":-6,"hi":-2.73},{"A":146,"lo":-6,"hi":-2.75},{"A":147,"lo":-6,"hi":-2.8},{"A":148.1,"lo":-6,"hi":-3.08},{"A":149,"lo":-6,"hi":-2.95},{"A":150,"lo":-6,"hi":-2.85},{"A":151,"lo":-6,"hi":-3.1},{"A":152,"lo":-6,"hi":-3.22},{"A":153.4,"lo":-6,"hi":-3.03},{"A":154.8,"lo":-6,"hi":-3.18},{"A":155.9,"lo":-6,"hi":-2.76},{"A":156.9,"lo":-6,"hi":-3.0},{"A":158,"lo":-6,"hi":-3.07},{"A":159,"lo":-6,"hi":-2.79},{"A":160.4,"lo":-6,"hi":-2.87},{"A":160.8,"lo":-6,"hi":-2.82},{"A":161.8,"lo":-4.52,"hi":-2.76},{"A":162.9,"lo":-4.45,"hi":-2.95},{"A":163.5,"lo":-4.7,"hi":-2.8},{"A":164,"lo":-4.5,"hi":-2.68},{"A":164.6,"lo":-4.31,"hi":-2.58},{"A":165,"lo":-4.6,"hi":-2.48},{"A":165.5,"lo":-4.9,"hi":-2.62},{"A":166,"lo":-6,"hi":-2.79},{"A":167.1,"lo":-6,"hi":-2.6},{"A":168.1,"lo":-6,"hi":-2.83},{"A":169.2,"lo":-6,"hi":-3.03},{"A":169.9,"lo":-6,"hi":-2.6},{"A":171,"lo":-6,"hi":-2.76},{"A":172,"lo":-6,"hi":-2.87},{"A":173,"lo":-6,"hi":-2.95},{"A":174.5,"lo":-6,"hi":-2.79},{"A":175.9,"lo":-6,"hi":-2.6},{"A":176.9,"lo":-6,"hi":-2.79},{"A":178,"lo":-6,"hi":-2.68},{"A":179,"lo":-6,"hi":-2.87},{"A":180,"lo":-6,"hi":-2.64},{"A":181.1,"lo":-6,"hi":-2.87},{"A":182.2,"lo":-6,"hi":-2.72},{"A":182.9,"lo":-6,"hi":-3.18},{"A":184,"lo":-6,"hi":-3.07},{"A":185,"lo":-6,"hi":-3.1},{"A":186.4,"lo":-6,"hi":-3.14},{"A":187.8,"lo":-6,"hi":-3.03},{"A":189.2,"lo":-6,"hi":-2.8},{"A":190.2,"lo":-6,"hi":-2.72},{"A":191.3,"lo":-6,"hi":-2.68},{"A":192.4,"lo":-6,"hi":-2.68},{"A":193.4,"lo":-6,"hi":-2.37},{"A":194.1,"lo":-4.5,"hi":-2.25},{"A":194.5,"lo":-3.85,"hi":-2.3},{"A":195.5,"lo":-3.07,"hi":-2.37},{"A":196.2,"lo":-2.97,"hi":-2.21},{"A":196.9,"lo":-2.95,"hi":-2.3},{"A":198,"lo":-3.05,"hi":-2.29},{"A":199,"lo":-3.4,"hi":-2.33},{"A":199.6,"lo":-4.5,"hi":-2.35},{"A":199.9,"lo":-6,"hi":-2.37},{"A":201.1,"lo":-6,"hi":-2.52},{"A":202.2,"lo":-6,"hi":-2.48},{"A":203.2,"lo":-6,"hi":-2.83},{"A":204.3,"lo":-6,"hi":-3.03},{"A":205.3,"lo":-6,"hi":-3.46},{"A":206.4,"lo":-6,"hi":-3.38},{"A":207.4,"lo":-6,"hi":-3.18},{"A":208.5,"lo":-6,"hi":-3.57},{"A":209.5,"lo":-6,"hi":-3.53},{"A":210.6,"lo":-6,"hi":-3.81},{"A":211.6,"lo":-6,"hi":-3.53},{"A":212.7,"lo":-6,"hi":-3.88},{"A":213.8,"lo":-6,"hi":-3.61},{"A":214.8,"lo":-6,"hi":-3.73},{"A":215.9,"lo":-6,"hi":-3.92},{"A":216.9,"lo":-6,"hi":-3.65},{"A":218.3,"lo":-6,"hi":-3.85},{"A":219,"lo":-6,"hi":-4.2},{"A":220,"lo":-6,"hi":-3.77},{"A":221.5,"lo":-6,"hi":-3.77},{"A":222.2,"lo":-6,"hi":-3.85},{"A":223.2,"lo":-6,"hi":-3.73},{"A":224.3,"lo":-6,"hi":-3.61},{"A":225.3,"lo":-6,"hi":-3.57},{"A":226.4,"lo":-6,"hi":-3.73},{"A":227.4,"lo":-6,"hi":-3.77},{"A":228.5,"lo":-6,"hi":-3.77},{"A":229.5,"lo":-6,"hi":-3.69},{"A":230.6,"lo":-6,"hi":-3.65},{"A":231.6,"lo":-6,"hi":-3.53},{"A":232.7,"lo":-6,"hi":-3.42},{"A":233.8,"lo":-6,"hi":-3.5},{"A":234.8,"lo":-6,"hi":-3.57},{"A":235.9,"lo":-6,"hi":-3.46},{"A":236.9,"lo":-6,"hi":-3.57},{"A":238,"lo":-6,"hi":-3.42},{"A":239,"lo":-6,"hi":-3.53},{"A":240,"lo":-6,"hi":-3.57}],
"frdmDark":[{"A":80,"lo":-6,"hi":-4.24},{"A":81,"lo":-6,"hi":-4.0},{"A":82,"lo":-6,"hi":-3.85},{"A":83,"lo":-6,"hi":-4.1},{"A":84,"lo":-6,"hi":-4.2},{"A":85,"lo":-6,"hi":-4.45},{"A":86,"lo":-6,"hi":-4.35},{"A":87,"lo":-6,"hi":-4.55},{"A":88,"lo":-6,"hi":-4.75},{"A":89,"lo":-6,"hi":-4.6},{"A":90,"lo":-6,"hi":-4.9},{"A":91,"lo":-6,"hi":-5.0},{"A":92,"lo":-6,"hi":-5.3},{"A":93,"lo":-6,"hi":-6},{"A":93.6,"lo":-6,"hi":-4.9},{"A":94.2,"lo":-6,"hi":-6},{"A":107,"lo":-6,"hi":-6},{"A":108,"lo":-6,"hi":-4.9},{"A":109,"lo":-6,"hi":-4.55},{"A":110,"lo":-6,"hi":-4.7},{"A":111,"lo":-6,"hi":-4.6},{"A":112,"lo":-6,"hi":-4.5},{"A":113,"lo":-6,"hi":-5.2},{"A":114,"lo":-6,"hi":-6},{"A":125,"lo":-6,"hi":-5.5},{"A":126,"lo":-6,"hi":-4.9},{"A":127,"lo":-6,"hi":-4.4},{"A":128,"lo":-4.6,"hi":-4.0},{"A":129,"lo":-4.0,"hi":-3.55},{"A":130,"lo":-3.6,"hi":-3.38},{"A":131,"lo":-3.0,"hi":-2.9},{"A":132,"lo":-2.75,"hi":-2.35},{"A":133,"lo":-3.1,"hi":-2.8},{"A":134,"lo":-3.55,"hi":-3.3},{"A":135,"lo":-3.1,"hi":-2.8},{"A":136,"lo":-2.85,"hi":-2.4},{"A":137,"lo":-3.0,"hi":-2.75},{"A":138,"lo":-2.95,"hi":-2.4},{"A":139,"lo":-3.1,"hi":-2.9},{"A":140,"lo":-3.8,"hi":-3.3},{"A":141,"lo":-4.6,"hi":-3.8},{"A":142,"lo":-5.5,"hi":-4.1},{"A":143,"lo":-5.5,"hi":-4.33},{"A":144,"lo":-4.6,"hi":-4.15},{"A":145,"lo":-4.21,"hi":-3.98},{"A":146,"lo":-4.3,"hi":-3.86},{"A":147,"lo":-4.33,"hi":-3.84},{"A":148,"lo":-4.37,"hi":-3.84},{"A":149,"lo":-4.25,"hi":-3.86},{"A":150,"lo":-4.1,"hi":-3.78},{"A":151,"lo":-4.2,"hi":-3.86},{"A":152,"lo":-4.08,"hi":-3.77},{"A":153,"lo":-4.2,"hi":-3.85},{"A":154,"lo":-4.08,"hi":-3.74},{"A":155,"lo":-4.2,"hi":-3.85},{"A":156,"lo":-4.04,"hi":-3.68},{"A":157,"lo":-4.0,"hi":-3.62},{"A":158,"lo":-3.95,"hi":-3.6},{"A":159,"lo":-3.9,"hi":-3.55},{"A":160,"lo":-3.85,"hi":-3.5},{"A":161,"lo":-3.8,"hi":-3.42},{"A":162,"lo":-3.77,"hi":-3.38},{"A":163,"lo":-3.75,"hi":-3.4},{"A":164,"lo":-3.8,"hi":-3.38},{"A":165,"lo":-3.82,"hi":-3.42},{"A":166,"lo":-3.85,"hi":-3.45},{"A":167,"lo":-3.95,"hi":-3.5},{"A":168,"lo":-4.0,"hi":-3.6},{"A":169,"lo":-4.05,"hi":-3.55},{"A":170,"lo":-4.12,"hi":-3.65},{"A":171,"lo":-4.1,"hi":-3.6},{"A":172,"lo":-4.15,"hi":-3.65},{"A":173,"lo":-4.1,"hi":-3.6},{"A":174,"lo":-4.2,"hi":-3.55},{"A":175,"lo":-4.1,"hi":-3.5},{"A":176,"lo":-4.12,"hi":-3.53},{"A":177,"lo":-4.2,"hi":-3.65},{"A":178,"lo":-4.12,"hi":-3.58},{"A":179,"lo":-4.2,"hi":-3.68},{"A":180,"lo":-4.2,"hi":-3.6},{"A":181,"lo":-4.3,"hi":-3.7},{"A":182,"lo":-4.5,"hi":-3.85},{"A":183,"lo":-4.62,"hi":-4.0},{"A":184,"lo":-4.78,"hi":-4.2},{"A":185,"lo":-4.9,"hi":-4.4},{"A":186,"lo":-5.0,"hi":-4.5},{"A":187,"lo":-4.85,"hi":-4.4},{"A":188,"lo":-4.65,"hi":-4.2},{"A":189,"lo":-4.5,"hi":-4.0},{"A":190,"lo":-4.32,"hi":-3.8},{"A":191,"lo":-4.05,"hi":-3.55},{"A":192,"lo":-3.75,"hi":-3.35},{"A":193,"lo":-3.2,"hi":-2.95},{"A":194,"lo":-2.95,"hi":-2.7},{"A":195,"lo":-2.78,"hi":-2.6},{"A":196,"lo":-2.78,"hi":-2.6},{"A":197,"lo":-2.95,"hi":-2.7},{"A":198,"lo":-3.4,"hi":-3.2},{"A":199,"lo":-4.2,"hi":-4.0},{"A":200,"lo":-6,"hi":-5.0},{"A":201,"lo":-6,"hi":-4.7},{"A":202,"lo":-6,"hi":-4.95},{"A":203,"lo":-6,"hi":-4.62},{"A":204,"lo":-6,"hi":-4.85},{"A":205,"lo":-6,"hi":-4.75},{"A":206,"lo":-6,"hi":-4.6},{"A":207,"lo":-6,"hi":-4.9},{"A":208,"lo":-6,"hi":-4.65},{"A":209,"lo":-6,"hi":-4.8},{"A":210,"lo":-6,"hi":-4.6},{"A":211,"lo":-6,"hi":-4.85},{"A":212,"lo":-6,"hi":-4.7},{"A":213,"lo":-6,"hi":-4.9},{"A":214,"lo":-6,"hi":-4.75},{"A":215,"lo":-6,"hi":-4.9},{"A":216,"lo":-6,"hi":-5.0},{"A":217,"lo":-6,"hi":-4.9},{"A":218,"lo":-6,"hi":-5.1},{"A":219,"lo":-6,"hi":-5.2},{"A":220,"lo":-6,"hi":-5.1},{"A":221,"lo":-6,"hi":-5.2},{"A":222,"lo":-6,"hi":-5.0},{"A":223,"lo":-6,"hi":-4.85},{"A":224,"lo":-6,"hi":-4.8},{"A":225,"lo":-6,"hi":-4.75},{"A":226,"lo":-6,"hi":-4.7},{"A":227,"lo":-6,"hi":-4.65},{"A":228,"lo":-6,"hi":-4.62},{"A":229,"lo":-6,"hi":-4.6},{"A":230,"lo":-6,"hi":-4.58},{"A":231,"lo":-6,"hi":-4.55},{"A":232,"lo":-6,"hi":-4.53},{"A":233,"lo":-6,"hi":-4.51},{"A":234,"lo":-6,"hi":-4.52},{"A":235,"lo":-6,"hi":-4.55},{"A":236,"lo":-6,"hi":-4.6},{"A":237,"lo":-6,"hi":-4.7},{"A":238,"lo":-6,"hi":-4.8},{"A":239,"lo":-6,"hi":-4.95},{"A":240,"lo":-6,"hi":-5.1}]
},
"vconcat":[
{"width":760,"height":143,"resolve":{"axis":{"x":"independent","y":"independent"}},
"layer":[
{"data":{"name":"solar"},"mark":{"type":"circle","size":95,"color":"#000000","opacity":1},
"encoding":{"x":{"field":"A","type":"quantitative","scale":{"domain":[80,240],"nice":false,"zero":false},"axis":{"orient":"bottom","values":[80,100,120,140,160,180,200,220,240],"labels":false,"tickSize":-7,"title":null}},
"y":{"field":"logY","type":"quantitative","scale":{"domain":[-5,-1.68],"nice":false,"zero":false},"axis":{"orient":"left","values":[-5,-4.699,-4.523,-4.398,-4.301,-4.222,-4.155,-4.097,-4.046,-4,-3.699,-3.523,-3.398,-3.301,-3.222,-3.155,-3.097,-3.046,-3,-2.699,-2.523,-2.398,-2.301,-2.222,-2.155,-2.097,-2.046,-2,-1.699],"labelExpr":"datum.value == -2 ? '10\u207b\u00b2' : datum.value == -3 ? '10\u207b\u00b3' : datum.value == -4 ? '10\u207b\u2074' : datum.value == -5 ? '10\u207b\u2075' : ''","tickSize":-5,"labelFont":"DejaVu Sans","labelFontSize":15,"labelColor":"black","labelPadding":20,"labelOverlap":false,"labelFlush":false,"title":null}}}},
{"data":{"name":"hfbLight"},"mark":{"type":"area","fill":"#0000ff","fillOpacity":0.35,"stroke":"#808080","strokeWidth":1.5,"clip":true},
"encoding":{"x":{"field":"A","type":"quantitative","axis":{"orient":"top","values":[80,100,120,140,160,180,200,220,240],"labels":false,"tickSize":-7,"title":null}},"y":{"field":"hi","type":"quantitative","axis":{"orient":"right","values":[-5,-4.699,-4.523,-4.398,-4.301,-4.222,-4.155,-4.097,-4.046,-4,-3.699,-3.523,-3.398,-3.301,-3.222,-3.155,-3.097,-3.046,-3,-2.699,-2.523,-2.398,-2.301,-2.222,-2.155,-2.097,-2.046,-2,-1.699],"labels":false,"tickSize":-5,"title":null}},"y2":{"field":"lo"}}},
{"data":{"name":"hfbDark"},"mark":{"type":"area","fill":"#0000ff","fillOpacity":0.6,"stroke":"#000090","strokeWidth":1,"clip":true},
"encoding":{"x":{"field":"A","type":"quantitative","axis":null},"y":{"field":"hi","type":"quantitative","axis":null},"y2":{"field":"lo"}}},
{"data":{"values":[{"A":215.2,"logY":-2.56,"label":"HFB-17"}]},"mark":{"type":"text","align":"left","baseline":"middle","font":"DejaVu Sans","fontSize":17.5,"color":"black"},
"encoding":{"x":{"field":"A","type":"quantitative","axis":null},"y":{"field":"logY","type":"quantitative","axis":null},"text":{"field":"label"}}}
]},
{"width":760,"height":143,"resolve":{"axis":{"x":"independent","y":"independent"}},
"layer":[
{"data":{"name":"solar"},"mark":{"type":"circle","size":95,"color":"#000000","opacity":1},
"encoding":{"x":{"field":"A","type":"quantitative","scale":{"domain":[80,240],"nice":false,"zero":false},"axis":{"orient":"bottom","values":[80,100,120,140,160,180,200,220,240],"labels":false,"tickSize":-7,"title":null}},
"y":{"field":"logY","type":"quantitative","scale":{"domain":[-5,-1.68],"nice":false,"zero":false},"axis":{"orient":"left","values":[-5,-4.699,-4.523,-4.398,-4.301,-4.222,-4.155,-4.097,-4.046,-4,-3.699,-3.523,-3.398,-3.301,-3.222,-3.155,-3.097,-3.046,-3,-2.699,-2.523,-2.398,-2.301,-2.222,-2.155,-2.097,-2.046,-2,-1.699],"labelExpr":"datum.value == -2 ? '10\u207b\u00b2' : datum.value == -3 ? '10\u207b\u00b3' : datum.value == -4 ? '10\u207b\u2074' : datum.value == -5 ? '10\u207b\u2075' : ''","tickSize":-5,"labelFont":"DejaVu Sans","labelFontSize":15,"labelColor":"black","labelPadding":20,"labelOverlap":false,"labelFlush":false,"title":"Nuclear abundance Y(A)","titleFont":"Lato","titleFontWeight":"bold","titleFontSize":37,"titleColor":"black","titlePadding":23,"titleY":100}}}},
{"data":{"name":"dzLight"},"mark":{"type":"area","fill":"#008000","fillOpacity":0.35,"stroke":"#808080","strokeWidth":1.5,"clip":true},
"encoding":{"x":{"field":"A","type":"quantitative","axis":{"orient":"top","values":[80,100,120,140,160,180,200,220,240],"labels":false,"tickSize":-7,"title":null}},"y":{"field":"hi","type":"quantitative","axis":{"orient":"right","values":[-5,-4.699,-4.523,-4.398,-4.301,-4.222,-4.155,-4.097,-4.046,-4,-3.699,-3.523,-3.398,-3.301,-3.222,-3.155,-3.097,-3.046,-3,-2.699,-2.523,-2.398,-2.301,-2.222,-2.155,-2.097,-2.046,-2,-1.699],"labels":false,"tickSize":-5,"title":null}},"y2":{"field":"lo"}}},
{"data":{"name":"dzDark"},"mark":{"type":"area","fill":"#008000","fillOpacity":0.6,"stroke":"#005000","strokeWidth":1,"clip":true},
"encoding":{"x":{"field":"A","type":"quantitative","axis":null},"y":{"field":"hi","type":"quantitative","axis":null},"y2":{"field":"lo"}}},
{"data":{"values":[{"A":215.2,"logY":-2.56,"label":"DZ"}]},"mark":{"type":"text","align":"left","baseline":"middle","font":"DejaVu Sans","fontSize":17.5,"color":"black"},
"encoding":{"x":{"field":"A","type":"quantitative","axis":null},"y":{"field":"logY","type":"quantitative","axis":null},"text":{"field":"label"}}}
]},
{"width":760,"height":143,"resolve":{"axis":{"x":"independent","y":"independent"}},
"layer":[
{"data":{"name":"solar"},"mark":{"type":"circle","size":95,"color":"#000000","opacity":1},
"encoding":{"x":{"field":"A","type":"quantitative","scale":{"domain":[80,240],"nice":false,"zero":false},"axis":{"orient":"bottom","values":[80,100,120,140,160,180,200,220,240],"labels":true,"tickSize":-7,"labelFont":"Liberation Sans Narrow, DejaVu Sans Condensed, Lato, sans-serif","labelFontSize":23,"labelColor":"black","labelPadding":17,"labelFlush":false,"labelOverlap":false,"title":"Atomic Mass (A)","titleFont":"Lato","titleFontWeight":"bold","titleFontSize":44.5,"titleColor":"black","titlePadding":7,"titleX":324}},
"y":{"field":"logY","type":"quantitative","scale":{"domain":[-5,-1.68],"nice":false,"zero":false},"axis":{"orient":"left","values":[-5,-4.699,-4.523,-4.398,-4.301,-4.222,-4.155,-4.097,-4.046,-4,-3.699,-3.523,-3.398,-3.301,-3.222,-3.155,-3.097,-3.046,-3,-2.699,-2.523,-2.398,-2.301,-2.222,-2.155,-2.097,-2.046,-2,-1.699],"labelExpr":"datum.value == -2 ? '10\u207b\u00b2' : datum.value == -3 ? '10\u207b\u00b3' : datum.value == -4 ? '10\u207b\u2074' : datum.value == -5 ? '10\u207b\u2075' : ''","tickSize":-5,"labelFont":"DejaVu Sans","labelFontSize":15,"labelColor":"black","labelPadding":20,"labelOverlap":false,"labelFlush":false,"title":null}}}},
{"data":{"name":"frdmLight"},"mark":{"type":"area","fill":"#ff0000","fillOpacity":0.37,"stroke":"#808080","strokeWidth":1.5,"clip":true},
"encoding":{"x":{"field":"A","type":"quantitative","axis":{"orient":"top","values":[80,100,120,140,160,180,200,220,240],"labels":false,"tickSize":-7,"title":null}},"y":{"field":"hi","type":"quantitative","axis":{"orient":"right","values":[-5,-4.699,-4.523,-4.398,-4.301,-4.222,-4.155,-4.097,-4.046,-4,-3.699,-3.523,-3.398,-3.301,-3.222,-3.155,-3.097,-3.046,-3,-2.699,-2.523,-2.398,-2.301,-2.222,-2.155,-2.097,-2.046,-2,-1.699],"labels":false,"tickSize":-5,"title":null}},"y2":{"field":"lo"}}},
{"data":{"name":"frdmDark"},"mark":{"type":"area","fill":"#ff0000","fillOpacity":0.65,"stroke":"#a00000","strokeWidth":1,"clip":true},
"encoding":{"x":{"field":"A","type":"quantitative","axis":null},"y":{"field":"hi","type":"quantitative","axis":null},"y2":{"field":"lo"}}},
{"data":{"values":[{"A":215.2,"logY":-2.56,"label":"FRDM1995"}]},"mark":{"type":"text","align":"left","baseline":"middle","font":"DejaVu Sans","fontSize":17.5,"color":"black"},
"encoding":{"x":{"field":"A","type":"quantitative","axis":null},"y":{"field":"logY","type":"quantitative","axis":null},"text":{"field":"label"}}}
]}
]
}
